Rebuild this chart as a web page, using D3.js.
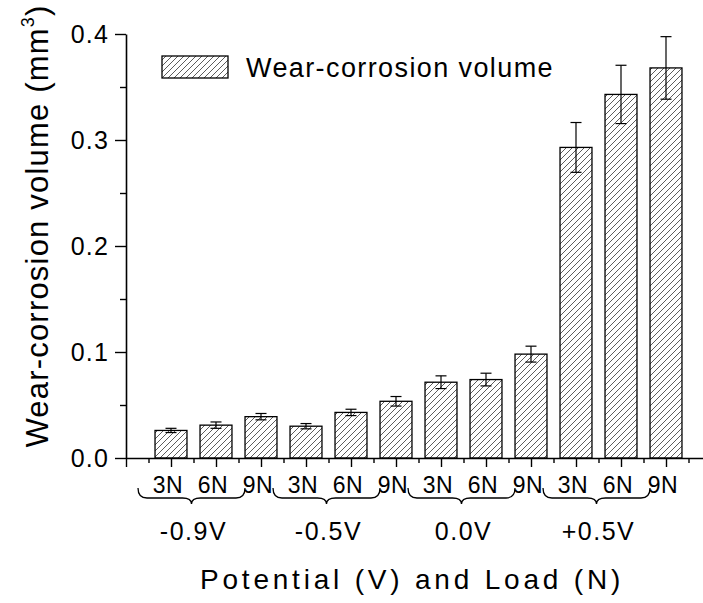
<!DOCTYPE html>
<html>
<head>
<meta charset="utf-8">
<script src="https://cdn.jsdelivr.net/npm/d3@7"></script>
<style>
  html, body { margin: 0; padding: 0; background: #fff; }
  svg { display: block; }
  text { font-family: "Liberation Sans", Arial, sans-serif; fill: #000; }
</style>
</head>
<body>
<svg id="chart" width="703" height="603"></svg>
<script>
// ---- data ----
const potentials = ["-0.9V", "-0.5V", "0.0V", "+0.5V"];
const loads = ["3N", "6N", "9N"];
const volumes = [0.026, 0.031, 0.039, 0.030, 0.043, 0.0535, 0.0715, 0.074, 0.098, 0.293, 0.343, 0.368];
const errors  = [0.002, 0.003, 0.003, 0.0025, 0.003, 0.0045, 0.006, 0.006, 0.0075, 0.0235, 0.0275, 0.0295];
const yTicks = [0, 0.1, 0.2, 0.3, 0.4];
const yMinorTicks = [0.05, 0.15, 0.25, 0.35];
const legendLabel = "Wear-corrosion volume";
const xTitle = "Potential (V) and Load (N)";

// ---- build ----
const rows = [];
potentials.forEach((p, gi) => loads.forEach((l, li) => {
  const i = gi * loads.length + li;
  rows.push({ pos: i + 1, potential: p, load: l, value: volumes[i], err: errors[i] });
}));

const svg = d3.select("#chart");
const x = d3.scaleLinear().domain([0, 13]).range([126, 711]);
const y = d3.scaleLinear().domain([0, 0.4]).range([458, 34]);
const barW = (x(1) - x(0)) * 0.71;

const defs = svg.append("defs");
const pat = defs.append("pattern").attr("id", "hatch")
  .attr("patternUnits", "userSpaceOnUse").attr("width", 6).attr("height", 6);
pat.append("rect").attr("width", 6).attr("height", 6).attr("fill", "#fff");
pat.append("path").attr("d", "M-1,1 l2,-2 M0,6 l6,-6 M5,7 l2,-2")
  .attr("stroke", "#333").attr("stroke-width", 0.8);

// bars
svg.append("g").selectAll("rect").data(rows).join("rect")
  .attr("x", d => x(d.pos) - barW / 2)
  .attr("y", d => y(d.value))
  .attr("width", barW)
  .attr("height", d => y(0) - y(d.value))
  .attr("fill", "url(#hatch)")
  .attr("stroke", "#000").attr("stroke-width", 1.3);

// error bars
const eg = svg.append("g").attr("stroke", "#000").attr("stroke-width", 1.2);
rows.forEach(d => {
  const cx = x(d.pos);
  eg.append("line").attr("x1", cx).attr("x2", cx).attr("y1", y(d.value - d.err)).attr("y2", y(d.value + d.err));
  eg.append("line").attr("x1", cx - 5.5).attr("x2", cx + 5.5).attr("y1", y(d.value - d.err)).attr("y2", y(d.value - d.err));
  eg.append("line").attr("x1", cx - 5.5).attr("x2", cx + 5.5).attr("y1", y(d.value + d.err)).attr("y2", y(d.value + d.err));
});

// y axis
const yAxis = svg.append("g").attr("transform", `translate(${x(0)},0)`)
  .call(d3.axisLeft(y).tickValues(yTicks).tickFormat(d3.format(".1f")).tickSize(11).tickPadding(6).tickSizeOuter(0));
yAxis.select(".domain").attr("stroke-width", 1.6);
yAxis.selectAll(".tick line").attr("stroke-width", 1.4);
yAxis.selectAll("text").attr("font-size", 25).attr("letter-spacing", 1.2)
  .attr("font-family", "Liberation Sans, Arial, sans-serif");
const yMinor = svg.append("g").attr("transform", `translate(${x(0)},0)`)
  .call(d3.axisLeft(y).tickValues(yMinorTicks).tickFormat("").tickSize(6).tickSizeOuter(0));
yMinor.select(".domain").remove();
yMinor.selectAll(".tick line").attr("stroke-width", 1.4);

// x axis
const xMajor = d3.range(0, 14);
const xMinor = d3.range(0, 13).map(v => v + 0.5);
const xAxis = svg.append("g").attr("transform", `translate(0,${y(0)})`)
  .call(d3.axisBottom(x).tickValues(xMajor).tickFormat("").tickSize(9).tickSizeOuter(0));
xAxis.select(".domain").attr("stroke-width", 1.6);
xAxis.selectAll(".tick line").attr("stroke-width", 1.4);
const xm = svg.append("g").attr("transform", `translate(0,${y(0)})`)
  .call(d3.axisBottom(x).tickValues(xMinor).tickFormat("").tickSize(5).tickSizeOuter(0));
xm.select(".domain").remove();
xm.selectAll(".tick line").attr("stroke-width", 1.4);

// load labels
svg.append("g").selectAll("text").data(rows).join("text")
  .attr("x", d => x(d.pos) - 3)
  .attr("y", 493)
  .attr("text-anchor", "middle")
  .attr("font-size", 23)
  .attr("letter-spacing", 0.5)
  .text(d => d.load);

// braces & potential labels
const bg = svg.append("g");
potentials.forEach((p, gi) => {
  const p1 = gi * 3 + 1, p2 = gi * 3 + 2;
  const cx = (x(p1) + x(p2)) / 2 - 2;
  const x1 = cx - 53.5, x2 = cx + 53.5;
  const yT = 488, yM = 498, yTip = 504, r = 9;
  const path = `M${x1},${yT} Q${x1},${yM} ${x1 + r},${yM} L${cx - r},${yM} Q${cx},${yM} ${cx},${yTip} ` +
               `Q${cx},${yM} ${cx + r},${yM} L${x2 - r},${yM} Q${x2},${yM} ${x2},${yT}`;
  bg.append("path").attr("d", path).attr("fill", "none").attr("stroke", "#000").attr("stroke-width", 1.3);
  bg.append("text").attr("x", cx + 2).attr("y", 540).attr("text-anchor", "middle")
    .attr("font-size", 25).attr("letter-spacing", 1.5).text(p);
});

// y title
const yt = svg.append("text")
  .attr("transform", "translate(48,226) rotate(-90)")
  .attr("text-anchor", "middle")
  .attr("font-size", 31)
  .attr("letter-spacing", 1.2);
yt.append("tspan").text("Wear-corrosion volume (mm");
yt.append("tspan").attr("font-size", 18).attr("dy", -14).text("3");
yt.append("tspan").attr("dy", 14).text(")");

// x title
svg.append("text").attr("x", 412).attr("y", 589).attr("text-anchor", "middle")
  .attr("font-size", 28).attr("letter-spacing", 3.8).text(xTitle);

// legend
svg.append("rect").attr("x", 162).attr("y", 56).attr("width", 66).attr("height", 22)
  .attr("fill", "url(#hatch)").attr("stroke", "#000").attr("stroke-width", 1.3);
svg.append("text").attr("x", 246).attr("y", 77).attr("font-size", 27).attr("letter-spacing", 1.4)
  .text(legendLabel);
</script>
</body>
</html>
